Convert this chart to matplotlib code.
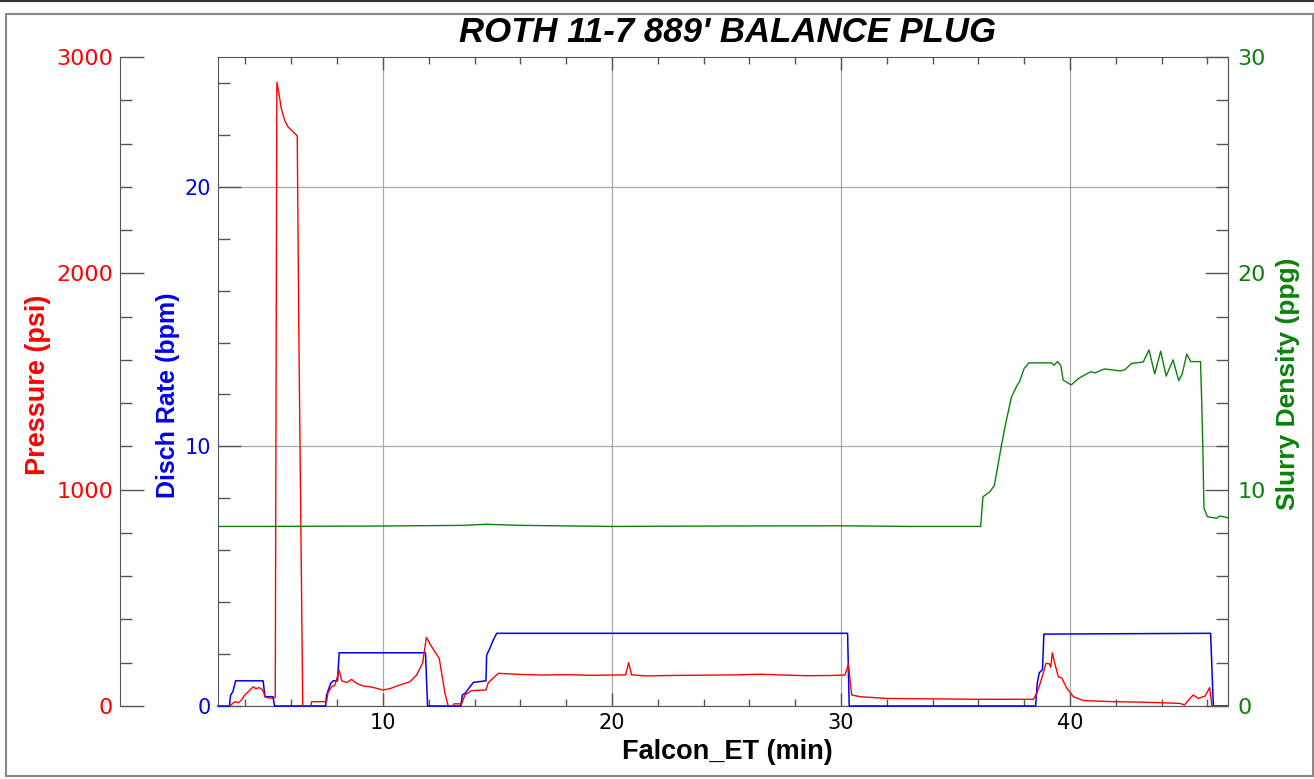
#!/usr/bin/env python3
"""Roth 11-7 balance plug job chart: pressure, rate and slurry density vs time."""

import matplotlib
matplotlib.use("Agg")
import matplotlib.pyplot as plt
from matplotlib.ticker import MultipleLocator, FixedLocator
from matplotlib.patches import Rectangle
from matplotlib.lines import Line2D

plt.rcParams['font.family'] = ['Liberation Sans', 'DejaVu Sans']

# ---- data ----
t_press = [2.8, 3.3, 3.4, 3.54, 3.7, 3.83, 3.97, 4.12, 4.34, 4.45, 4.6, 4.74, 4.88, 5.2, 5.3,
           5.37, 5.46, 5.56, 5.71, 5.85, 6.07, 6.26, 6.33, 6.5, 6.85, 6.89, 7.54, 7.6, 7.76,
           7.9, 7.98, 8.09, 8.2, 8.42, 8.63, 8.85, 9.14, 9.43, 9.72, 9.99, 10.3, 10.74, 11.18,
           11.47, 11.73, 11.9, 12.13, 12.46, 12.71, 12.85, 13.07, 13.1, 13.44, 13.58, 13.87,
           14.5, 14.6, 15.04, 16, 17, 18, 19, 20, 20.6, 20.73, 20.86, 21.5, 22.5, 23.5, 24.5,
           25.5, 26.5, 27.5, 28.5, 29.5, 30.17, 30.25, 30.32, 30.47, 30.83, 32.0, 34, 36.07,
           38.4, 38.55, 38.69, 38.83, 38.95, 39.1, 39.16, 39.23, 39.3, 39.49, 39.64, 39.86,
           40.15, 40.59, 41.9, 43, 44.08, 44.8, 45.0, 45.2, 45.38, 45.6, 45.9, 46.1, 46.2, 46.9]
pressure = [0, 0, 8, 20, 15, 28, 51, 66, 89, 80, 85, 75, 40, 35, 40,
            2883, 2832, 2763, 2708, 2678, 2655, 2635, 1724, 0, 0, 20, 20, 61, 89,
            95, 123, 166, 117, 108, 123, 105, 92, 89, 82, 74, 80, 97, 112,
            143, 197, 317, 274, 220, 59, 0, 0, 10, 10, 51, 71,
            74, 108, 151, 146, 143, 145, 142, 143, 144, 200, 144, 139, 141, 142, 143,
            144, 147, 143, 140, 141, 143, 166, 194, 51, 43, 35, 33, 31,
            31, 59, 102, 151, 197, 195, 179, 246, 213, 135, 130, 82,
            43, 25, 20, 18, 15, 12, 5, 30, 51, 35, 46, 85, 0, 0]

t_rate = [2.8, 3.3, 3.35, 3.45, 3.57, 4.77, 4.85, 5.2, 5.27, 7.5, 7.54, 7.72, 7.83, 8.02,
          8.09, 11.86, 11.95, 13.4, 13.47, 13.6, 13.95, 14.5, 14.53, 14.67, 14.82, 14.97,
          30.29, 30.36, 38.5, 38.57, 38.66, 38.8, 38.86, 46.14, 46.26, 46.9]
rate = [0, 0, 0.42, 0.55, 0.97, 0.97, 0.36, 0.36, 0, 0, 0.42, 0.87, 0.97, 0.97,
        2.05, 2.05, 0, 0, 0.42, 0.5, 0.91, 0.97, 1.96, 2.22, 2.54, 2.8,
        2.8, 0, 0, 0.87, 1.28, 1.4, 2.77, 2.8, 0, 0]

t_dens = [2.8, 5, 10, 13.5, 14.5, 16, 20, 25, 30, 33, 36.1, 36.2, 36.5, 36.7, 37.0, 37.2,
          37.45, 37.7, 37.8, 38.0, 38.2, 39.2, 39.3, 39.45, 39.6, 39.7, 40.05, 40.4, 40.9,
          41.1, 41.5, 42.2, 42.4, 42.7, 43.2, 43.45, 43.7, 43.96, 44.2, 44.5, 44.75, 44.9,
          45.1, 45.27, 45.7, 45.75, 45.8, 45.85, 46.0, 46.4, 46.55, 46.9]
density = [8.3, 8.3, 8.32, 8.35, 8.4, 8.35, 8.3, 8.32, 8.33, 8.3, 8.3, 9.67, 9.9, 10.2, 12.0,
           13.1, 14.3, 14.84, 15.0, 15.6, 15.86, 15.86, 15.75, 15.92, 15.75, 15.07, 14.84,
           15.16, 15.45, 15.4, 15.58, 15.49, 15.55, 15.84, 15.9, 16.46, 15.35, 16.4, 15.25,
           16.0, 15.04, 15.35, 16.27, 15.92, 15.92, 14.15, 12.0, 9.15, 8.75, 8.68, 8.78, 8.7]

x_ticks = [10, 20, 30, 40]
press_ticks = [0, 1000, 2000, 3000]
rate_ticks = [0, 10, 20]
dens_ticks = [0, 10, 20, 30]

RED = '#ff0000'
BLUE = '#0000f0'
GREEN = '#0a820a'
AX_COL = '#555555'
TICK_FONT = 'DejaVu Sans'

W, H = 1314, 779


def fx(px):
    return px / W


def fy(py):
    return 1 - py / H


def tick_font(axis, size):
    for lab in axis.get_ticklabels():
        lab.set_family(TICK_FONT)
        lab.set_fontsize(size)


fig = plt.figure(figsize=(W / 100, H / 100), dpi=100, facecolor='white')

# outer frame
fig.add_artist(Rectangle((fx(6), fy(776)), fx(1313) - fx(6), fy(14) - fy(776),
                         transform=fig.transFigure, fill=False, ec='#888888', lw=1.5))
fig.add_artist(Line2D([0, 1], [fy(1), fy(1)], transform=fig.transFigure, color='#333333', lw=1.5))

left, right, top, bottom = 218, 1228, 57, 706
ax = fig.add_axes([fx(left), fy(bottom), fx(right) - fx(left), fy(top) - fy(bottom)])
ax_p = ax.twinx()
ax_g = ax.twinx()

# host: discharge rate (blue)
ax.set_xlim(2.8, 46.9)
ax.set_ylim(0, 25)
ax.xaxis.set_major_locator(FixedLocator(x_ticks))
ax.xaxis.set_minor_locator(MultipleLocator(2))
ax.yaxis.set_major_locator(FixedLocator(rate_ticks))
ax.yaxis.set_minor_locator(MultipleLocator(2))
ax.grid(True, which='major', color='#a8a8a8', lw=0.9)
ax.set_axisbelow(True)
ax.tick_params(axis='x', which='both', direction='in', top=True, colors=AX_COL,
               labelcolor='black', pad=5)
ax.tick_params(axis='x', which='major', length=9.5, width=1)
ax.tick_params(axis='x', which='minor', length=5, width=1)
ax.tick_params(axis='y', which='both', direction='in', colors=AX_COL,
               labelcolor=BLUE, pad=5)
ax.tick_params(axis='y', which='major', length=16.5, width=1)
ax.tick_params(axis='y', which='minor', length=8.5, width=1)
for s in ax.spines.values():
    s.set_color(AX_COL)
ax.plot(t_rate, rate, color=BLUE, lw=1.1, clip_on=False, zorder=3)

# pressure axis (red), spine pushed out to the left
ax_p.set_ylim(0, 3000)
ax_p.yaxis.set_ticks_position('left')
ax_p.yaxis.set_label_position('left')
ax_p.spines['left'].set_position(('axes', (120 - left) / (right - left)))
ax_p.spines['left'].set_color(AX_COL)
for k in ['right', 'top', 'bottom']:
    ax_p.spines[k].set_visible(False)
ax_p.yaxis.set_major_locator(FixedLocator(press_ticks))
ax_p.yaxis.set_minor_locator(MultipleLocator(200))
ax_p.tick_params(axis='y', which='both', direction='in', colors=AX_COL,
                 labelcolor=RED, pad=5)
ax_p.tick_params(axis='y', which='major', length=17, width=1)
ax_p.tick_params(axis='y', which='minor', length=8.5, width=1)
ax_p.patch.set_visible(False)
ax_p.plot(t_press, pressure, color=RED, lw=1.0, zorder=2)

# slurry density axis (green) on the right
ax_g.set_ylim(0, 30)
ax_g.yaxis.set_major_locator(FixedLocator(dens_ticks))
ax_g.yaxis.set_minor_locator(MultipleLocator(2))
ax_g.spines['right'].set_color(AX_COL)
for k in ['left', 'top', 'bottom']:
    ax_g.spines[k].set_visible(False)
ax_g.tick_params(axis='y', which='both', direction='in', colors=AX_COL,
                 labelcolor=GREEN, pad=7)
ax_g.tick_params(axis='y', which='major', length=16.5, width=1)
ax_g.tick_params(axis='y', which='minor', length=8.5, width=1)
ax_g.patch.set_visible(False)
ax_g.plot(t_dens, density, color=GREEN, lw=1.0)

tick_font(ax.xaxis, 15)
tick_font(ax.yaxis, 15)
tick_font(ax_p.yaxis, 16)
tick_font(ax_g.yaxis, 16)

# texts
fig.text(fx(727), fy(33), "ROTH 11-7 889' BALANCE PLUG", ha='center', va='center',
         fontsize=25, fontweight='bold', fontstyle='italic')
fig.text(fx(727), fy(752), 'Falcon_ET (min)', ha='center', va='center',
         fontsize=19.5, fontweight='bold')
fig.text(fx(38), fy(385), 'Pressure (psi)', ha='center', va='center', rotation=90,
         fontsize=19.5, fontweight='bold', color=RED)
fig.text(fx(168), fy(395), 'Disch Rate (bpm)', ha='center', va='center', rotation=90,
         fontsize=18, fontweight='bold', color=BLUE)
fig.text(fx(1288), fy(384), 'Slurry Density (ppg)', ha='center', va='center', rotation=90,
         fontsize=19, fontweight='bold', color=GREEN)

fig.savefig('out.png', dpi=100, facecolor='white')
